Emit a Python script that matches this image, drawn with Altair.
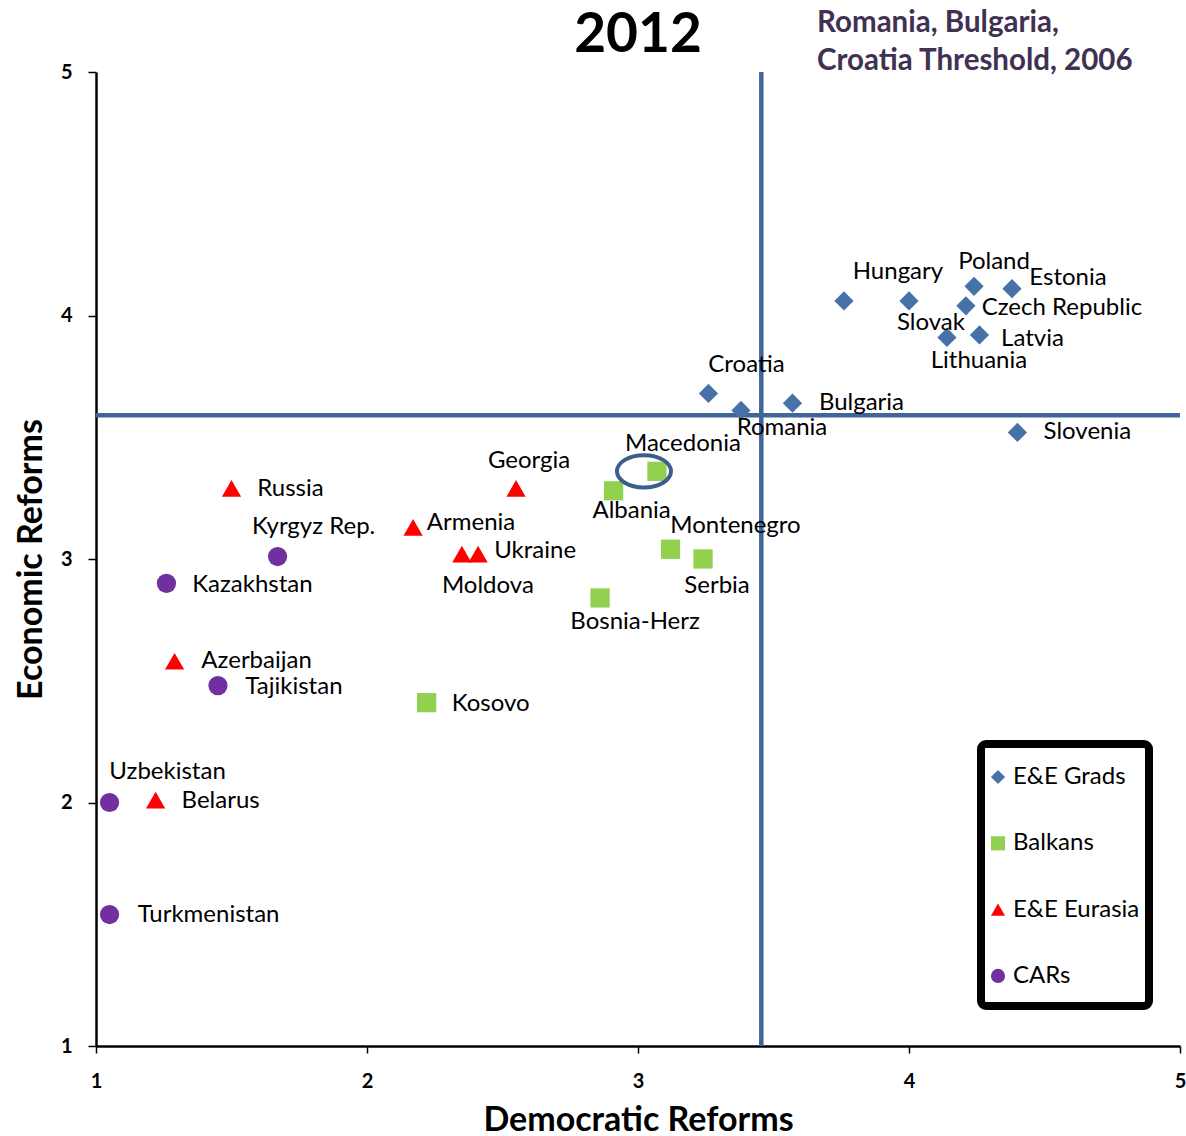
import altair as alt
import pandas as pd

# Country scores: democratic reforms (x) vs economic reforms (y), 2012
countries = [
    "Hungary", "Slovak", "Poland", "Estonia", "Czech Republic", "Lithuania",
    "Latvia", "Croatia", "Romania", "Bulgaria", "Slovenia",
    "Macedonia", "Albania", "Montenegro", "Serbia", "Bosnia-Herz", "Kosovo",
    "Georgia", "Armenia", "Moldova", "Ukraine", "Russia", "Azerbaijan", "Belarus",
    "Kyrgyz Rep.", "Kazakhstan", "Tajikistan", "Uzbekistan", "Turkmenistan",
]
groups = (
    ["E&E Grads"] * 11
    + ["Balkans"] * 6
    + ["E&E Eurasia"] * 7
    + ["CARs"] * 5
)
democratic = [
    3.76, 4.00, 4.24, 4.38, 4.21, 4.14, 4.26, 3.26, 3.38, 3.57, 4.40,
    3.07, 2.91, 3.12, 3.24, 2.86, 2.22,
    2.55, 2.17, 2.35, 2.41, 1.50, 1.29, 1.22,
    1.67, 1.26, 1.45, 1.05, 1.05,
]
economic = [
    4.06, 4.06, 4.12, 4.11, 4.04, 3.91, 3.92, 3.68, 3.61, 3.64, 3.52,
    3.36, 3.28, 3.04, 3.00, 2.84, 2.41,
    3.29, 3.13, 3.02, 3.02, 3.29, 2.58, 2.01,
    3.01, 2.90, 2.48, 2.00, 1.54,
]

# Romania / Bulgaria / Croatia threshold (2006)
threshold_democratic = [3.455]
threshold_economic = [3.59]

GROUP_ORDER = ["E&E Grads", "Balkans", "E&E Eurasia", "CARs"]
GROUP_SHAPES = ["diamond", "square", "triangle-up", "circle"]
GROUP_COLORS = ["#4672A8", "#92D050", "#FF0000", "#7030A0"]
LINE_COLOR = "#3F659B"
FONT = "Lato"

# Pixel offset of each data label (its centre) from its marker
LABEL_OFFSETS = {
    "Hungary": (54, -29), "Slovak": (22, 22), "Poland": (20, -24),
    "Estonia": (56, -11), "Czech Republic": (96, 2), "Lithuania": (32, 24),
    "Latvia": (53, 4), "Croatia": (38, -28), "Romania": (41, 18),
    "Bulgaria": (69, 0), "Slovenia": (70, 0), "Macedonia": (26, -27),
    "Albania": (18, 20), "Montenegro": (65, -23), "Serbia": (14, 27),
    "Bosnia-Herz": (35, 24), "Kosovo": (64, 1), "Georgia": (13, -27),
    "Armenia": (58, -4), "Moldova": (26, 32), "Ukraine": (57, -3),
    "Russia": (59, 1), "Azerbaijan": (82, 0), "Belarus": (65, 1),
    "Kyrgyz Rep.": (36, -30), "Kazakhstan": (86, 2), "Tajikistan": (76, 1),
    "Uzbekistan": (58, -31), "Turkmenistan": (99, 0),
}

df = pd.DataFrame({
    "country": countries,
    "group": groups,
    "democratic": democratic,
    "economic": economic,
})

thresh = pd.DataFrame({"democratic": threshold_democratic,
                       "economic": threshold_economic})

W, H = 1084, 974

x_enc = alt.X(
    "democratic:Q",
    scale=alt.Scale(domain=[1, 5], nice=False, zero=False),
    axis=alt.Axis(values=[1, 2, 3, 4, 5], format="d", title="Democratic Reforms",
                  labelPadding=18, tickSize=7, titlePadding=12, labelFlush=False),
)
y_enc = alt.Y(
    "economic:Q",
    scale=alt.Scale(domain=[1, 5], nice=False, zero=False),
    axis=alt.Axis(values=[1, 2, 3, 4, 5], format="d", title="Economic Reforms",
                  labelPadding=16, tickSize=8, titlePadding=12, labelFlush=False),
)

legend = alt.Legend(
    title=None, orient="none", legendX=890, legendY=693,
    labelFont=FONT, labelFontSize=24, labelColor="black",
    symbolSize=200, symbolStrokeWidth=0, rowPadding=42.3, labelOffset=3,
    padding=0,
)

shape_scale = alt.Scale(domain=GROUP_ORDER, range=GROUP_SHAPES)
color_scale = alt.Scale(domain=GROUP_ORDER, range=GROUP_COLORS)

vline = alt.Chart(thresh).mark_rule(color=LINE_COLOR, strokeWidth=4.5).encode(
    x=x_enc
)
hline = alt.Chart(thresh).mark_rule(color=LINE_COLOR, strokeWidth=4.5).encode(
    y=y_enc
)

legend_box = alt.Chart(pd.DataFrame({"box": [0]})).mark_rect(
    fill="white", stroke="black", strokeWidth=8, cornerRadius=5
).encode(
    x=alt.value(885), x2=alt.value(1053), y=alt.value(672), y2=alt.value(934)
)

points = alt.Chart(df).mark_point(filled=True, opacity=1, size=370).encode(
    x=x_enc,
    y=y_enc,
    shape=alt.Shape("group:N", scale=shape_scale, legend=legend, sort=GROUP_ORDER),
    color=alt.Color("group:N", scale=color_scale, legend=legend, sort=GROUP_ORDER),
)

# One text layer per country so each label keeps its own placement
label_layers = []
for name, (ox, oy) in LABEL_OFFSETS.items():
    label_layers.append(
        alt.Chart(df).transform_filter(alt.datum.country == name).mark_text(
            font=FONT, fontSize=24, color="black", align="center",
            baseline="middle", dx=ox, dy=oy,
        ).encode(x=x_enc, y=y_enc, text="country:N")
    )

# Ring drawn around Macedonia
ELLIPSE = ("M -1 0 C -1 -0.331 -0.552 -0.6 0 -0.6 C 0.552 -0.6 1 -0.331 1 0 "
           "C 1 0.331 0.552 0.6 0 0.6 C -0.552 0.6 -1 0.331 -1 0 Z")
ring = alt.Chart(df).transform_filter(
    alt.datum.country == "Macedonia"
).mark_point(
    shape=ELLIPSE, size=2916, filled=False, color="#3B5E8C", strokeWidth=4,
    opacity=1, xOffset=-13,
).encode(x=x_enc, y=y_enc)

year_title = alt.Chart(pd.DataFrame({"t": [0]})).mark_text(
    text="2012", font=FONT, fontSize=55, fontWeight="bold", color="black",
    align="center", baseline="alphabetic",
).encode(x=alt.value(542), y=alt.value(-20))

threshold_note = alt.Chart(pd.DataFrame({"t": [0]})).mark_text(
    text=["Romania, Bulgaria,", "Croatia Threshold, 2006"],
    font=FONT, fontSize=29.5, fontWeight="bold", color="#403152",
    align="left", baseline="alphabetic", lineHeight=38,
).encode(x=alt.value(721), y=alt.value(-40))

chart = alt.layer(
    vline, hline, legend_box, points, *label_layers, ring, year_title,
    threshold_note,
).properties(
    width=W, height=H,
    padding={"left": 96, "top": 72, "right": 6, "bottom": 90},
    autosize=alt.AutoSizeParams(type="none"),
    background="white",
).configure_view(
    stroke=None
).configure_axis(
    grid=False,
    domainColor="black", domainWidth=2.5,
    tickColor="black", tickWidth=1.5,
    labelFont=FONT, labelFontSize=20, labelFontWeight="bold", labelColor="black",
    titleFont=FONT, titleFontSize=34, titleFontWeight="bold", titleColor="black",
)

chart.save("out.html", embed_options={"renderer": "svg", "actions": False})
